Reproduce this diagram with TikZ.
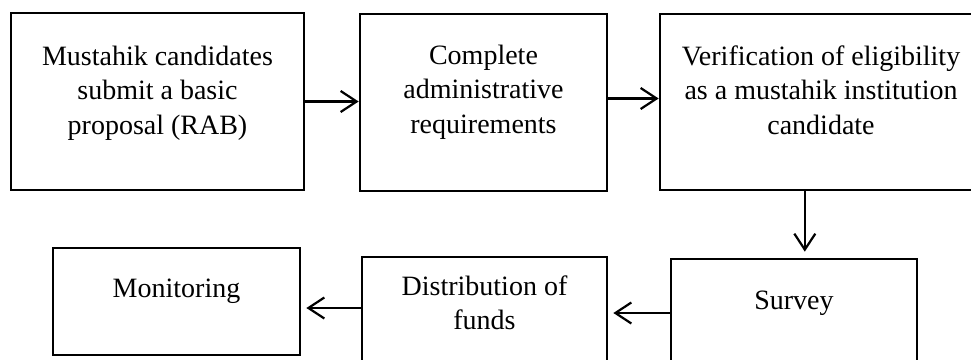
\documentclass[tikz,border=0pt]{standalone}
\usepackage{fontspec}
\setmainfont{Liberation Serif}
\usetikzlibrary{arrows.meta,calc}
\begin{document}
\begin{tikzpicture}[x=1pt,y=-1pt,
  box/.style={draw=black,line width=2.7pt,rectangle,inner sep=0pt,minimum width=#1},
  lbl/.style={font=\fontsize{28}{34.5}\selectfont,align=center,inner sep=0pt,anchor=base},
  arr/.style={line width=2.2pt,-{Straight Barb[length=16pt,width=21pt,line width=2.2pt]}}]
\useasboundingbox (0,0) rectangle (971,359);
% boxes
\node[box=293pt,minimum height=177pt] (b1) at (157.5,101.5) {};
\node[box=247pt,minimum height=177pt] (b2) at (483.5,102.5) {};
\node[box=340pt,minimum height=176pt] (b3) at (830,102) {};
\node[box=247pt,minimum height=107pt] (b4) at (176.5,301.5) {};
\node[box=245pt,minimum height=104pt] (b5) at (484.5,309) {};
\node[box=246pt,minimum height=108pt] (b6) at (794,313) {};
% texts (anchor = baseline of the last line)
\node[lbl] (t1) at (157.5,134) {Mustahik candidates\\submit a basic\\proposal (RAB)};
\node[lbl] (t2) at (483.5,133) {Complete\\administrative\\requirements};
\node[lbl] (t3) at (821,134) {Verification of eligibility\\as a mustahik institution\\candidate};
\node[lbl] (t4) at (176.5,297) {Monitoring};
\node[lbl] (t5) at (484.5,329.5) {Distribution of\\funds};
\node[lbl] (t6) at (794,309) {Survey};
% connectors
\coordinate (c3) at ($(b3.south west)!0.4265!(b3.south east)$);
\draw[arr] (b1.east) -- (b1.east -| b2.west);
\draw[arr] ($(b2.east)+(0,-4)$) -- ($(b2.east -| b3.west)+(0,-4)$);
\draw[arr,shorten >=6pt] (c3) -- (c3 |- b6.north);
\draw[arr,shorten >=5pt] (b6.west) -- (b6.west -| b5.east);
\draw[arr,shorten >=5pt] ($(b5.west)+(0,-1)$) -- ($(b5.west -| b4.east)+(0,-1)$);
\end{tikzpicture}
\end{document}
